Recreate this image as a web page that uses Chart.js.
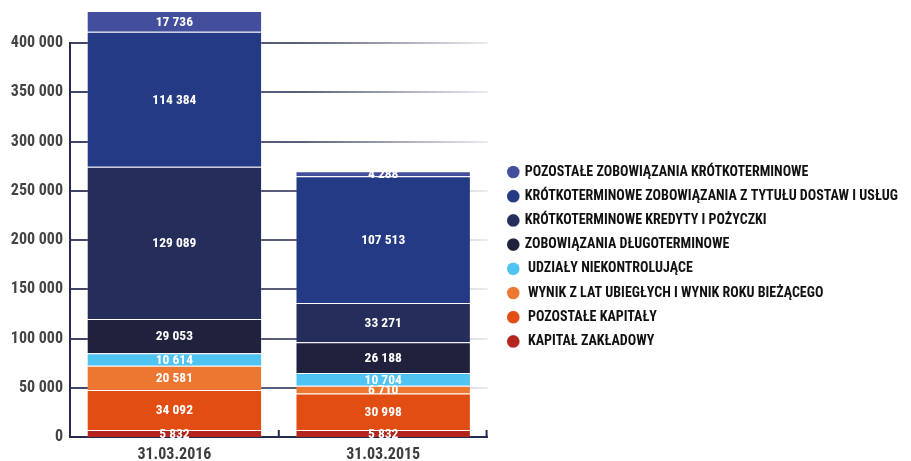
<!DOCTYPE html>
<html>
<head>
<meta charset="utf-8">
<script src="https://cdn.jsdelivr.net/npm/chart.js@4.4.0/dist/chart.umd.min.js"></script>
<style>
  html, body { margin: 0; padding: 0; background: #fff; }
  #wrap { width: 911px; height: 461px; }
</style>
</head>
<body>
<div id="wrap"><canvas id="myChart"></canvas></div>
<script>
// dates on the x axis
const labels = ["31.03.2016", "31.03.2015"];

// series, bottom of the stack first
const kapitalZakladowy = [5832, 5832];
const pozostaleKapitaly = [34092, 30998];
const wynikLat = [20581, 6710];
const udzialyNiekontrolujace = [10614, 10704];
const zobowiazaniaDlugo = [29053, 26188];
const kredytyKrotko = [129089, 33271];
const zobowiazaniaDostaw = [114384, 107513];
const pozostaleZobowiazania = [17736, 4288];

// tick labels of the left axis
const axisTicks = [0, 50000, 100000, 150000, 200000, 250000, 300000, 350000, 400000];

const FONT = "'Roboto Condensed', 'Open Sans Condensed', 'DejaVu Sans Condensed', sans-serif";
Chart.defaults.font.family = FONT;
Chart.defaults.font.weight = 'bold';

function fmt(v) {
  return String(v).replace(/\B(?=(\d{3})+(?!\d))/g, ' ');
}

function makeSet(label, values, color) {
  return {
    label: label,
    data: values,
    backgroundColor: color,
    borderColor: 'rgba(255,255,255,0.18)',
    borderWidth: 1,
    clip: false,
    barPercentage: 0.84,
    categoryPercentage: 1
  };
}

const data = {
  labels: labels,
  datasets: [
    makeSet(" KAPITAŁ ZAKŁADOWY", kapitalZakladowy, "#b4261d"),
    makeSet(" POZOSTAŁE KAPITAŁY", pozostaleKapitaly, "#e24d13"),
    makeSet(" WYNIK Z LAT UBIEGŁYCH I WYNIK ROKU BIEŻĄCEGO", wynikLat, "#ed7631"),
    makeSet(" UDZIAŁY NIEKONTROLUJĄCE", udzialyNiekontrolujace, "#4fc3f2"),
    makeSet("ZOBOWIĄZANIA DŁUGOTERMINOWE", zobowiazaniaDlugo, "#1f213d"),
    makeSet("KRÓTKOTERMINOWE KREDYTY I POŻYCZKI", kredytyKrotko, "#252e5b"),
    makeSet("KRÓTKOTERMINOWE ZOBOWIĄZANIA Z TYTUŁU DOSTAW I USŁUG", zobowiazaniaDostaw, "#243a84"),
    makeSet("POZOSTAŁE ZOBOWIĄZANIA KRÓTKOTERMINOWE", pozostaleZobowiazania, "#434e9d")
  ]
};

// gridlines fade out towards the right
function gridColor(context) {
  const chart = context.chart;
  const a = chart.chartArea;
  if (!a) return '#555a76';
  const g = chart.ctx.createLinearGradient(a.left, 0, a.right, 0);
  g.addColorStop(0, '#3f4566');
  g.addColorStop(0.55, '#5a5f7a');
  g.addColorStop(1, '#ececf0');
  return g;
}

// white value labels in the middle of each segment
const valueLabels = {
  id: 'valueLabels',
  afterDatasetsDraw(chart) {
    const ctx = chart.ctx;
    ctx.save();
    ctx.fillStyle = '#ffffff';
    ctx.font = "bold 13.5px " + FONT;
    ctx.textAlign = 'center';
    ctx.textBaseline = 'middle';
    chart.data.datasets.forEach(function(ds, i) {
      const meta = chart.getDatasetMeta(i);
      meta.data.forEach(function(bar, j) {
        const y = (bar.y + bar.base) / 2;
        ctx.fillText(fmt(ds.data[j]), bar.x, y + 1);
      });
    });
    ctx.restore();
  }
};

// small upward tick marks on the x axis
const axisMarks = {
  id: 'axisMarks',
  afterDraw(chart) {
    const ctx = chart.ctx;
    const x = chart.scales.x;
    const a = chart.chartArea;
    const mid = (x.getPixelForValue(0) + x.getPixelForValue(1)) / 2;
    ctx.save();
    ctx.strokeStyle = '#262b4f';
    ctx.lineWidth = 2;
    [mid, a.right - 1].forEach(function(px) {
      ctx.beginPath();
      ctx.moveTo(px, a.bottom);
      ctx.lineTo(px, a.bottom - 7);
      ctx.stroke();
    });
    ctx.restore();
  }
};

const config = {
  type: 'bar',
  data: data,
  options: {
    responsive: true,
    maintainAspectRatio: false,
    animation: false,
    layout: { padding: { top: 43, left: 11, right: 3, bottom: 0 } },
    plugins: {
      legend: {
        position: 'right',
        reverse: true,
        maxWidth: 440,
        title: { display: true, text: '', font: { size: 2 }, padding: { top: 7, bottom: 0 } },
        labels: {
          usePointStyle: true,
          pointStyle: 'circle',
          boxWidth: 9,
          boxHeight: 9,
          padding: 10.2,
          color: '#111111',
          font: { size: 14, weight: 'bold' }
        }
      },
      tooltip: { enabled: false }
    },
    scales: {
      x: {
        stacked: true,
        grid: { display: true, drawOnChartArea: false, drawTicks: false },
        border: { display: true, color: '#262b4f', width: 2 },
        ticks: { color: '#3d3d3d', font: { size: 16, weight: 'bold' }, padding: 8 },
        afterFit: function(scale) { scale.height = 24; }
      },
      y: {
        stacked: true,
        position: 'right',
        min: 0,
        max: 334200,
        grid: { display: false },
        border: { display: false },
        ticks: { display: false },
        afterFit: function(scale) { scale.width = 11; }
      },
      y2: {
        position: 'left',
        min: 0,
        max: 400000,
        grid: { color: gridColor, lineWidth: 2, drawTicks: false },
        border: { color: '#262b4f', width: 2 },
        ticks: {
          color: '#444444',
          font: { size: 16, weight: 'bold' },
          padding: 7,
          callback: function(v) { return fmt(v); }
        },
        afterBuildTicks: function(scale) {
          scale.ticks = axisTicks.map(function(v) { return { value: v }; });
        },
        afterFit: function(scale) { scale.width = 59; }
      }
    }
  },
  plugins: [valueLabels, axisMarks]
};

var myChart = new Chart(document.getElementById('myChart'), config);
</script>
</body>
</html>
